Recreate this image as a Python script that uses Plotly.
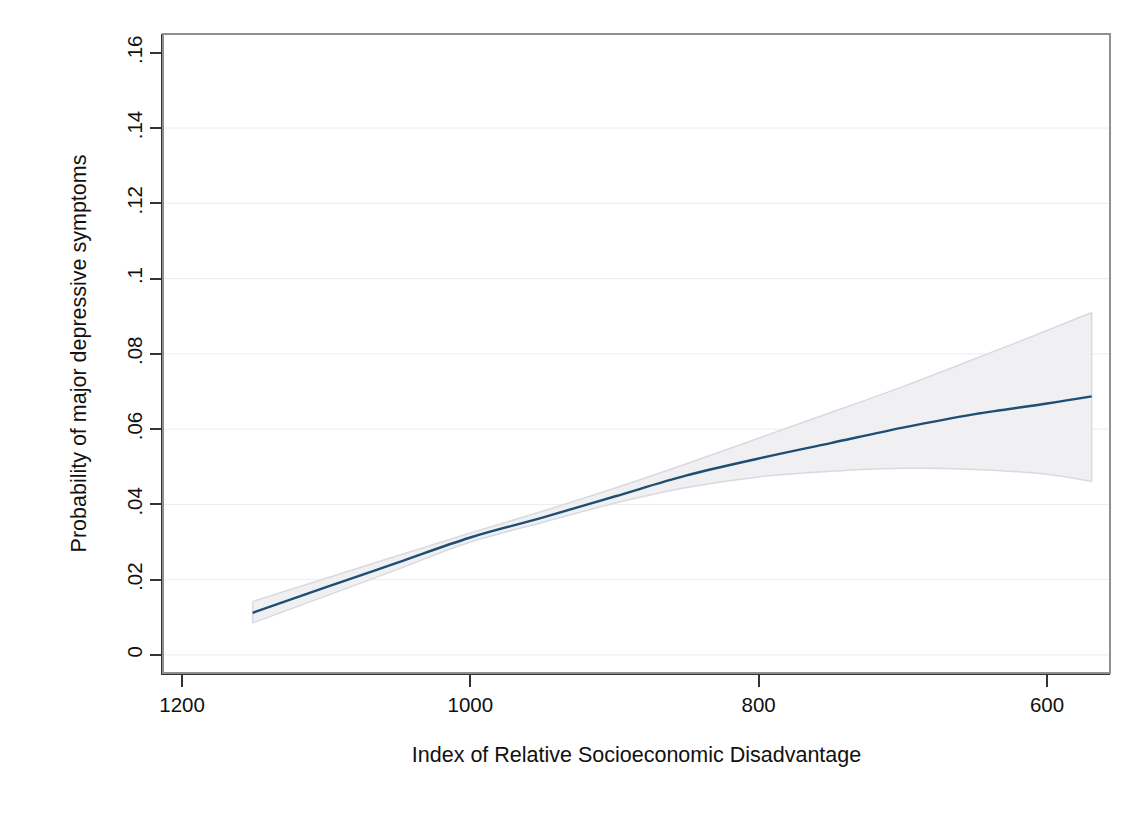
import plotly.graph_objects as go

# Data
irsd = [1151, 1100, 1050, 1000, 950, 900, 850, 800, 750, 700, 650, 600, 569]
prob = [0.0112, 0.0180, 0.0246, 0.0312, 0.0365, 0.0421, 0.0477, 0.0522, 0.0563, 0.0604, 0.0640, 0.0668, 0.0687]
ci_upper = [0.0142, 0.0204, 0.0264, 0.0324, 0.0382, 0.0443, 0.0508, 0.0576, 0.0644, 0.0713, 0.0787, 0.0862, 0.0910]
ci_lower = [0.0085, 0.0157, 0.0228, 0.0300, 0.0352, 0.0403, 0.0445, 0.0473, 0.0488, 0.0496, 0.0493, 0.0480, 0.0461]

y_ticks = [0, 0.02, 0.04, 0.06, 0.08, 0.10, 0.12, 0.14, 0.16]
y_labels = ["0", ".02", ".04", ".06", ".08", ".1", ".12", ".14", ".16"]
x_ticks = [1200, 1000, 800, 600]
x_labels = ["1200", "1000", "800", "600"]

FONT = "Liberation Sans, Arial, Helvetica, sans-serif"
BAND_LINE = "#d9d9e3"

fig = go.Figure()

# Light horizontal grid lines (none at the top tick, as in the reference)
for yv in y_ticks[:-1]:
    fig.add_shape(type="line", xref="paper", yref="y", x0=0, x1=1, y0=yv, y1=yv,
                  line=dict(color="#ececec", width=1), layer="below")

# Confidence band: lower edge, then upper edge filled to it
fig.add_trace(go.Scatter(
    x=irsd, y=ci_lower, mode="lines",
    line=dict(color=BAND_LINE, width=1.5, shape="spline"),
    hoverinfo="skip", showlegend=False,
))
fig.add_trace(go.Scatter(
    x=irsd, y=ci_upper, mode="lines", fill="tonexty",
    fillcolor="rgba(240,240,243,1)",
    line=dict(color=BAND_LINE, width=1.5, shape="spline"),
    hoverinfo="skip", showlegend=False,
))
# Band end edges
for i in (0, -1):
    fig.add_trace(go.Scatter(
        x=[irsd[i], irsd[i]], y=[ci_lower[i], ci_upper[i]], mode="lines",
        line=dict(color=BAND_LINE, width=1.5),
        hoverinfo="skip", showlegend=False,
    ))

# Predicted probability line
fig.add_trace(go.Scatter(
    x=irsd, y=prob, mode="lines",
    line=dict(color="#1f4e72", width=2.4, shape="spline"),
    showlegend=False,
))

# Plot region frame (top/right gray)
fig.add_shape(type="rect", xref="paper", yref="paper", x0=0, y0=0, x1=1, y1=1,
              line=dict(color="#8f8f8f", width=2), layer="above")

fig.update_layout(
    width=1125, height=817,
    margin=dict(l=155, r=23, t=26, b=152, autoexpand=False),
    paper_bgcolor="white",
    plot_bgcolor="white",
    font=dict(family=FONT, size=20, color="#111111"),
    xaxis=dict(
        range=[1213.2, 556.3],
        tickvals=x_ticks, ticktext=x_labels,
        ticks="outside", ticklen=12, tickwidth=1.5, tickcolor="#333333",
        showline=True, linecolor="#333333", linewidth=2,
        showgrid=False, zeroline=False, automargin=False,
        title=dict(text="Index of Relative Socioeconomic Disadvantage",
                   font=dict(size=21.5), standoff=32),
        tickfont=dict(size=20.5),
    ),
    yaxis=dict(
        range=[-0.0048, 0.165],
        tickvals=y_ticks, ticktext=y_labels,
        tickangle=-90,
        ticks="outside", ticklen=11, tickwidth=1.5, tickcolor="#333333",
        showline=True, linecolor="#333333", linewidth=2,
        showgrid=False, zeroline=False, automargin=False,
        title=dict(text="Probability of major depressive symptoms",
                   font=dict(size=21.5), standoff=30),
        tickfont=dict(size=20.5),
    ),
)

fig.write_html("out.html")
